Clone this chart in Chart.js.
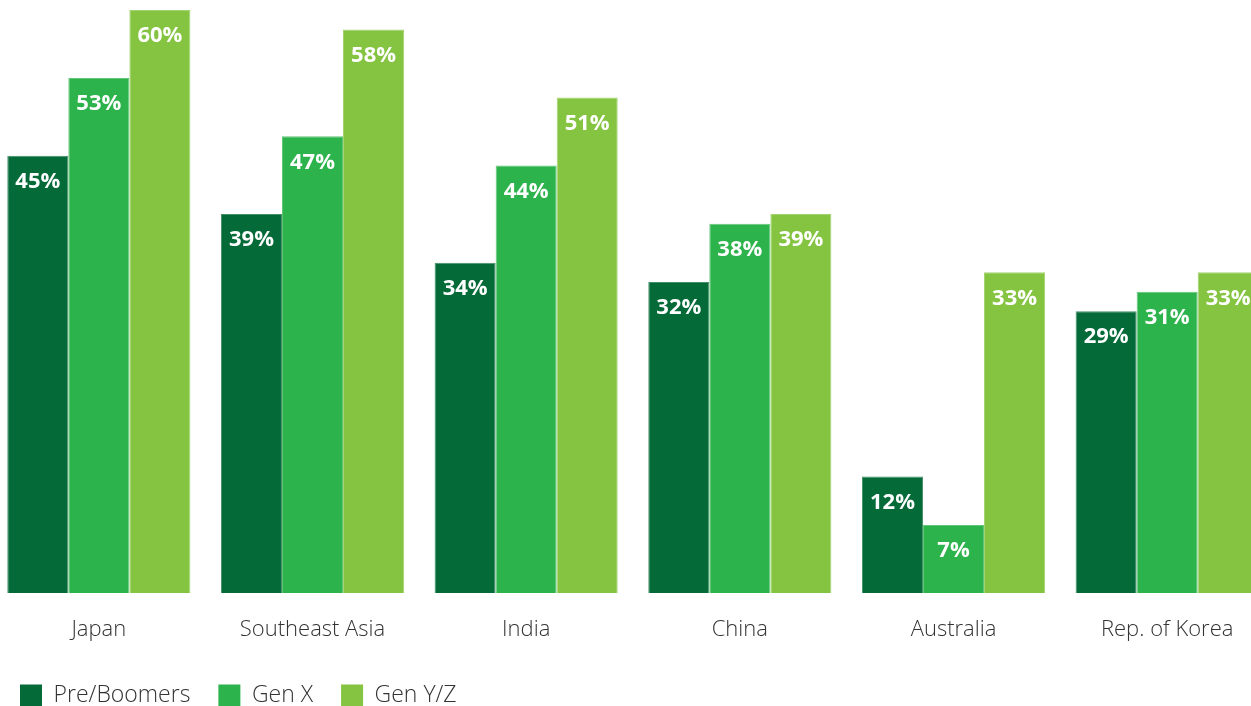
<!DOCTYPE html>
<html>
<head>
<meta charset="utf-8">
<script src="https://cdn.jsdelivr.net/npm/chart.js@4/dist/chart.umd.min.js"></script>
<style>
  html, body { margin: 0; padding: 0; background: #fff; overflow: hidden; }
  #wrap { position: absolute; left: -8px; top: 0; width: 1282px; height: 706px; }
</style>
</head>
<body>
<div id="wrap"><canvas id="genChart"></canvas></div>
<script>
const regions = ['Japan', 'Southeast Asia', 'India', 'China', 'Australia', 'Rep. of Korea'];
const preBoomers = [45, 39, 34, 32, 12, 29];
const genX = [53, 47, 44, 38, 7, 31];
const genYZ = [60, 58, 51, 39, 33, 33];

const colors = ['#046A38', '#2DB34B', '#84C441'];
// slightly lighter edge for each bar
const edges = ['#438F6A', '#61C678', '#A3D371'];

// white percentage text near the top of each bar
const barLabels = {
  id: 'barLabels',
  afterDatasetsDraw(chart) {
    const ctx = chart.ctx;
    ctx.save();
    ctx.fillStyle = '#ffffff';
    ctx.font = 'bold 22px "Open Sans"';
    ctx.textAlign = 'center';
    ctx.textBaseline = 'middle';
    chart.data.datasets.forEach((ds, i) => {
      chart.getDatasetMeta(i).data.forEach((bar, j) => {
        ctx.fillText(ds.data[j] + '%', bar.x, bar.y + 26);
      });
    });
    ctx.restore();
  }
};

new Chart(document.getElementById('genChart'), {
  type: 'bar',
  data: {
    labels: regions,
    datasets: [
      { label: 'Pre/Boomers', data: preBoomers, backgroundColor: colors[0], borderColor: edges[0] },
      { label: 'Gen X', data: genX, backgroundColor: colors[1], borderColor: edges[1] },
      { label: 'Gen Y/Z', data: genYZ, backgroundColor: colors[2], borderColor: edges[2] }
    ]
  },
  options: {
    responsive: true,
    maintainAspectRatio: false,
    animation: false,
    layout: { padding: { top: 10, left: 0, right: 0, bottom: -11 } },
    datasets: {
      bar: {
        categoryPercentage: 0.857,
        barPercentage: 1,
        borderWidth: 1
      }
    },
    scales: {
      x: {
        grid: { display: false, drawTicks: false },
        border: { display: false },
        ticks: {
          color: '#333333',
          font: { family: 'Open Sans', size: 22, weight: '300' },
          padding: 24
        },
        afterFit(scale) {
          scale.height = 63;
        }
      },
      y: {
        display: false,
        min: 0,
        max: 60
      }
    },
    plugins: {
      tooltip: { enabled: false },
      legend: {
        position: 'bottom',
        align: 'start',
        labels: {
          boxWidth: 22,
          boxHeight: 22,
          padding: 28,
          color: '#333333',
          font: { family: 'Open Sans', size: 23, weight: '300' },
          generateLabels(chart) {
            // plain squares without the lighter edge
            return chart.data.datasets.map((ds, i) => ({
              text: ds.label,
              fillStyle: ds.backgroundColor,
              strokeStyle: ds.backgroundColor,
              lineWidth: 0,
              fontColor: '#333333',
              datasetIndex: i,
              hidden: !chart.isDatasetVisible(i)
            }));
          }
        }
      }
    }
  },
  plugins: [barLabels]
});
</script>
</body>
</html>
